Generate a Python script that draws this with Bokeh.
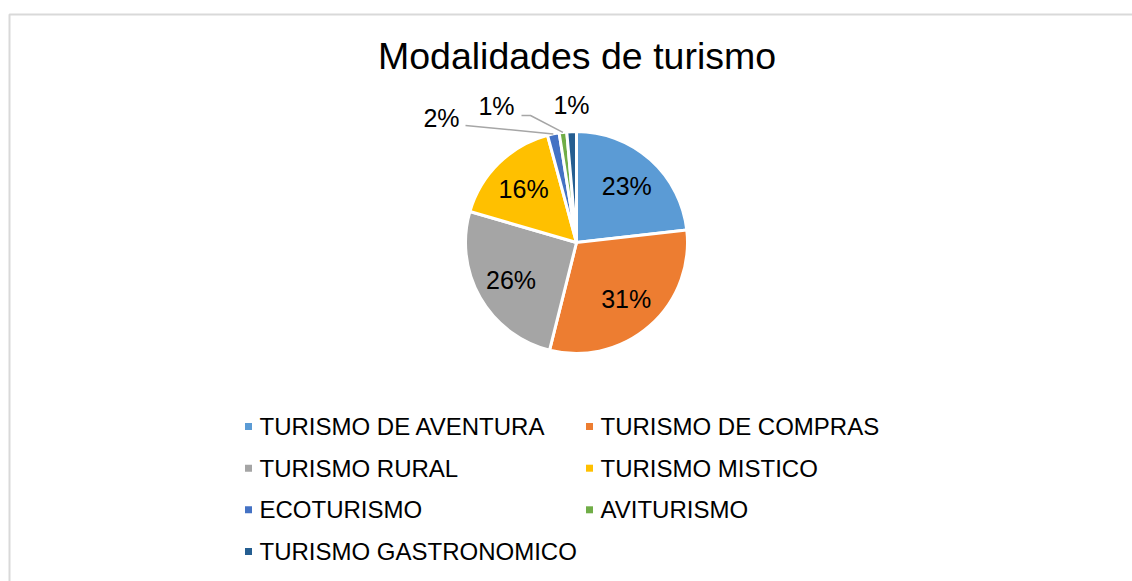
import math
from bokeh.plotting import figure
from bokeh.models import Range1d, ColumnDataSource
from bokeh.core.properties import value
from bokeh.embed import file_html
from bokeh.resources import INLINE

# ---------------- data ----------------
title = "Modalidades de turismo"
categories = ["TURISMO DE AVENTURA", "TURISMO DE COMPRAS", "TURISMO RURAL",
              "TURISMO MISTICO", "ECOTURISMO", "AVITURISMO", "TURISMO GASTRONOMICO"]
values = [23.2, 30.7, 25.6, 16.3, 1.7, 1.1, 1.4]
colors = ["#5B9BD5", "#ED7D31", "#A5A5A5", "#FFC000", "#4472C4", "#70AD47", "#255E91"]

FONT = "Liberation Sans"
W, H = 1132, 581


def fx(px):
    return px


def fy(py):
    return H - py


p = figure(width=W, height=H, output_backend="svg", toolbar_location=None,
           x_range=Range1d(0, W), y_range=Range1d(0, H), min_border=0)
p.axis.visible = False
p.grid.visible = False
p.outline_line_color = None
p.background_fill_color = "white"
p.border_fill_color = "white"

# chart area border (only top and left visible in reference)
p.line(x=[fx(9), fx(9), W], y=[0, fy(14), fy(14)], line_color="#D9D9D9", line_width=2)

# title
p.text(x=[fx(576.5)], y=[fy(55)], text=[title], text_font=value(FONT),
       text_font_size="37.5px", text_align="center", text_baseline="middle",
       text_color="#000000")

# ---------------- pie ----------------
cx, cy, R = fx(576), fy(242), 111
total = sum(values)
fracs = [v / total for v in values]
starts, ends, mids = [], [], []
cum = 0.0
for f in fracs:
    a0 = math.pi / 2 - 2 * math.pi * (cum + f)
    a1 = math.pi / 2 - 2 * math.pi * cum
    starts.append(a0)
    ends.append(a1)
    mids.append((a0 + a1) / 2)
    cum += f

src = ColumnDataSource(dict(start=starts, end=ends, color=colors, cat=categories))
p.wedge(x=cx, y=cy, radius=R, start_angle="start", end_angle="end",
        direction="anticlock", fill_color="color", line_color="white",
        line_width=3, source=src)

labels = ["%d%%" % round(v * 100 / total) for v in values]

# inside labels for the big slices
in_idx = [i for i in range(len(values)) if fracs[i] >= 0.05]
lx = [cx + 0.68 * R * math.cos(mids[i]) for i in in_idx]
ly = [cy + 0.68 * R * math.sin(mids[i]) for i in in_idx]
p.text(x=lx, y=ly, text=[labels[i] for i in in_idx], text_font=value(FONT),
       text_font_size="25px", text_align="center", text_baseline="middle",
       text_color="#000000")

# outside labels for the small slices (layout positions)
out_idx = [i for i in range(len(values)) if fracs[i] < 0.05]
out_pos = [(441, 117), (496, 105), (571, 104)]
p.text(x=[fx(a) for a, b in out_pos], y=[fy(b) for a, b in out_pos],
       text=[labels[i] for i in out_idx], text_font=value(FONT),
       text_font_size="25px", text_align="center", text_baseline="middle",
       text_color="#000000")

# leader lines
e0 = out_idx[0]
p.line(x=[fx(465), cx + R * math.cos(mids[e0])],
       y=[fy(125), cy + R * math.sin(mids[e0])], line_color="#A6A6A6", line_width=1.5)
e1 = out_idx[1]
p.line(x=[fx(521), fx(530), cx + R * math.cos(mids[e1])],
       y=[fy(115), fy(115), cy + R * math.sin(mids[e1])], line_color="#A6A6A6", line_width=1.5)

# ---------------- legend ----------------
col_marker = [248, 589]
col_text = [259, 600]
row_mid = [426, 467.7, 509.3, 551]
mx, my, tx, ty = [], [], [], []
for i, c in enumerate(categories):
    r, col = divmod(i, 2)
    mx.append(fx(col_marker[col]))
    my.append(fy(row_mid[r]))
    tx.append(fx(col_text[col]))
    ty.append(fy(row_mid[r]))
p.scatter(x=mx, y=my, marker="square", size=7, fill_color=colors, line_color=None)
p.text(x=tx, y=ty, text=categories, text_font=value(FONT), text_font_size="24px",
       text_align="left", text_baseline="middle", text_color="#000000")

open("out.html", "w").write(file_html(p, INLINE))
